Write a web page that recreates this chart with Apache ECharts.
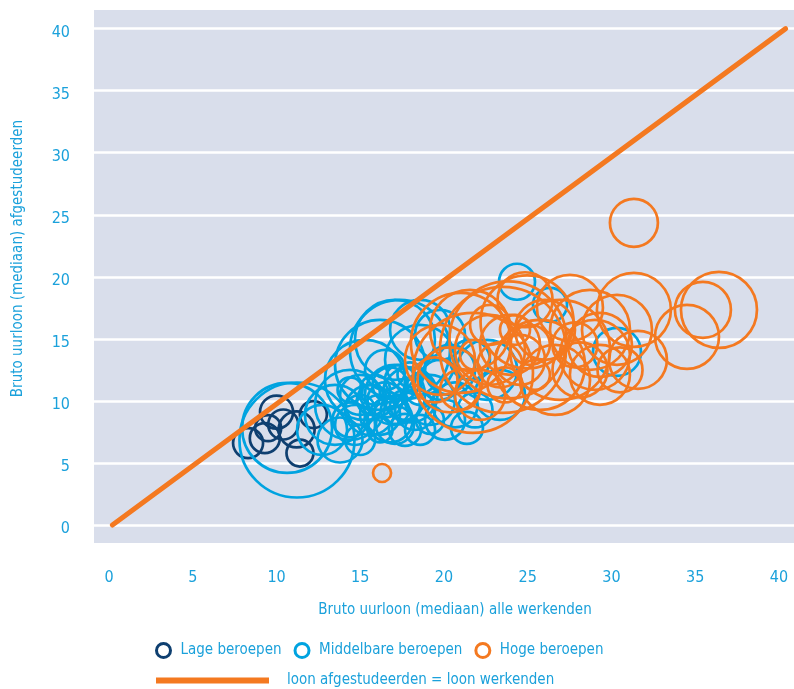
<!DOCTYPE html>
<html>
<head>
<meta charset="utf-8">
<script src="https://cdn.jsdelivr.net/npm/echarts@6/dist/echarts.min.js"></script>
<style>html,body{margin:0;padding:0;background:#fff}#c{width:794px;height:689px}</style>
</head>
<body>
<div id="c"></div>
<script>
// ---- data ----
const xTicks = [0, 5, 10, 15, 20, 25, 30, 35, 40];
const yTicks = [0, 5, 10, 15, 20, 25, 30, 35, 40];

// Lage beroepen: [loon werkenden, loon afgestudeerden, omvang]
const lageX = [8.3, 9.3, 10.4, 10.0, 11.2, 11.4, 12.2, 9.5];
const lageY = [6.6, 7.0, 8.1, 9.1, 7.7, 5.8, 8.9, 7.8];
const lageN = [30, 30, 30, 33, 36, 27, 27, 26];

const midX = [11.22, 10.63, 13.49, 12.72, 14.39, 15.28, 16.18, 17.37, 17.07, 18.57, 15.58, 16.78, 17.97, 14.69, 16.48, 17.37, 15.88, 17.07, 18.27, 19.16, 18.57, 20.06, 21.37, 19.76, 20.36, 21.55, 22.57, 24.36, 26.33, 30.33, 13.79, 14.99, 17.67, 16.18, 18.57, 19.76, 14.39, 17.97, 14.99, 17.07, 20.66, 23.34, 21.85,
              15.70, 16.78, 17.67, 16.18, 14.99, 18.57, 17.07, 19.16, 16.48, 14.39];
const midY = [6.85, 7.82, 8.87, 7.66, 9.68, 11.69, 12.90, 14.11, 14.92, 13.31, 9.27, 8.47, 10.48, 8.06, 10.08, 11.69, 10.89, 9.27, 9.27, 10.08, 7.66, 8.47, 7.82, 11.69, 12.50, 13.31, 12.50, 19.60, 17.74, 13.95, 6.85, 6.85, 7.66, 7.66, 15.73, 15.32, 10.89, 12.10, 10.48, 10.48, 9.68, 10.48, 9.27,
              10.08, 11.29, 9.68, 8.87, 9.27, 10.89, 8.06, 8.47, 12.50, 8.47];
const midN = [115, 90, 60, 50, 70, 80, 90, 100, 80, 70, 50, 45, 55, 40, 35, 30, 30, 28, 40, 50, 30, 40, 32, 40, 50, 40, 60, 36, 34, 48, 45, 30, 32, 25, 60, 50, 25, 25, 40, 60, 45, 50, 35,
              30, 35, 30, 40, 30, 30, 38, 28, 40, 35];

const hogeX = [16.30, 31.34, 36.42, 35.46, 34.51, 31.34, 30.33, 31.58, 29.31, 28.72, 27.52, 26.93, 25.73, 24.96, 23.82, 23.52, 21.73, 21.01, 19.76, 20.36, 21.55, 22.75, 23.94, 24.54, 23.34, 25.13, 26.03, 24.84, 26.63, 28.12, 29.31, 30.51, 22.15, 20.96, 19.46, 23.64, 25.43, 22.75, 24.24, 21.85, 27.82, 29.01];
const hogeY = [4.19, 24.35, 17.34, 17.34, 15.16, 17.34, 15.73, 13.31, 14.52, 15.73, 17.50, 14.11, 12.90, 16.37, 14.92, 14.11, 12.26, 14.68, 13.31, 11.69, 15.73, 14.11, 14.52, 13.31, 12.90, 14.52, 15.73, 18.15, 11.69, 12.50, 12.10, 12.50, 10.48, 10.89, 11.69, 11.29, 12.10, 16.13, 15.73, 13.71, 14.52, 13.71];
const hogeN = [18, 48, 76, 56, 64, 74, 70, 58, 64, 80, 66, 100, 90, 93, 117, 126, 120, 100, 70, 65, 80, 70, 60, 50, 45, 40, 60, 55, 70, 55, 60, 45, 50, 40, 45, 35, 30, 40, 30, 30, 45, 70];

const lijnX = [0.2, 40.4];
const lijnY = [0, 40];

const names = ['Lage beroepen', 'Middelbare beroepen', 'Hoge beroepen', 'loon afgestudeerden = loon werkenden'];

// ---- chart ----
const FONT = "'Liberation Sans Narrow', 'DejaVu Sans Condensed', 'Noto Sans', sans-serif";
const TXT = '#1ba1db';
const C_LAGE = '#0e3f70', C_MID = '#00a3e0', C_HOGE = '#f47920';

function zip(xs, ys, ns) { return xs.map((x, i) => ns ? [x, ys[i], ns[i]] : [x, ys[i]]); }

function bubble(name, xs, ys, ns, color) {
  return {
    name: name, type: 'scatter',
    data: zip(xs, ys, ns),
    symbol: 'circle',
    symbolSize: v => v[2],
    itemStyle: { color: 'rgba(0,0,0,0)', borderColor: color, borderWidth: 2.7, opacity: 1 },
    emphasis: { disabled: true },
    silent: true
  };
}

const chart = echarts.init(document.getElementById('c'), null, { renderer: 'canvas' });
chart.setOption({
  animation: false,
  textStyle: { fontFamily: FONT },
  grid: { left: 94, right: 0, top: 10, bottom: 146, show: true, backgroundColor: '#d9deeb', borderWidth: 0 },
  xAxis: {
    type: 'value', min: -0.9, max: 40.9,
    name: 'Bruto uurloon (mediaan) alle werkenden', nameLocation: 'middle', nameGap: 60,
    nameTextStyle: { color: TXT, fontSize: 15, fontFamily: FONT, padding: [0, 0, 0, 22] },
    axisLine: { show: false },
    axisTick: { show: false, customValues: xTicks },
    axisLabel: { customValues: xTicks, color: TXT, fontSize: 16, fontFamily: FONT, margin: 27 },
    splitLine: { show: false }
  },
  yAxis: {
    type: 'value', min: -1.45, max: 41.5,
    name: 'Bruto uurloon (mediaan) afgestudeerden', nameLocation: 'middle', nameGap: 68,
    nameTextStyle: { color: TXT, fontSize: 15, fontFamily: FONT, padding: [0, 0, 0, 36] },
    axisLine: { show: false },
    axisTick: { show: false, customValues: yTicks },
    axisLabel: { customValues: yTicks, color: TXT, fontSize: 16, fontFamily: FONT, margin: 24, verticalAlign: 'top', lineHeight: 8 },
    splitLine: { show: true, lineStyle: { color: '#ffffff', width: 2.5 } }
  },
  legend: [
    {
      data: [
        { name: names[0], itemStyle: { color: 'rgba(0,0,0,0)', borderColor: C_LAGE, borderWidth: 3 } },
        { name: names[1], itemStyle: { color: 'rgba(0,0,0,0)', borderColor: C_MID, borderWidth: 3 } },
        { name: names[2], itemStyle: { color: 'rgba(0,0,0,0)', borderColor: C_HOGE, borderWidth: 3 } }
      ],
      icon: 'circle', left: 150, top: 637, itemWidth: 24, itemHeight: 14, itemGap: 12,
      selectedMode: false,
      textStyle: { color: TXT, fontSize: 15, fontFamily: FONT }
    },
    {
      data: [{ name: names[3], icon: 'rect', itemStyle: { color: C_HOGE } }],
      left: 151, top: 668, itemWidth: 113, itemHeight: 6,
      selectedMode: false,
      textStyle: { color: TXT, fontSize: 15, fontFamily: FONT, padding: [0, 0, 0, 13] }
    }
  ],
  series: [
    bubble(names[0], lageX, lageY, lageN, C_LAGE),
    bubble(names[1], midX, midY, midN, C_MID),
    bubble(names[2], hogeX, hogeY, hogeN, C_HOGE),
    {
      name: names[3], type: 'line', data: zip(lijnX, lijnY),
      symbol: 'none', silent: true,
      lineStyle: { color: C_HOGE, width: 5, cap: 'round' },
      itemStyle: { color: C_HOGE }
    }
  ]
});
</script>
</body>
</html>
